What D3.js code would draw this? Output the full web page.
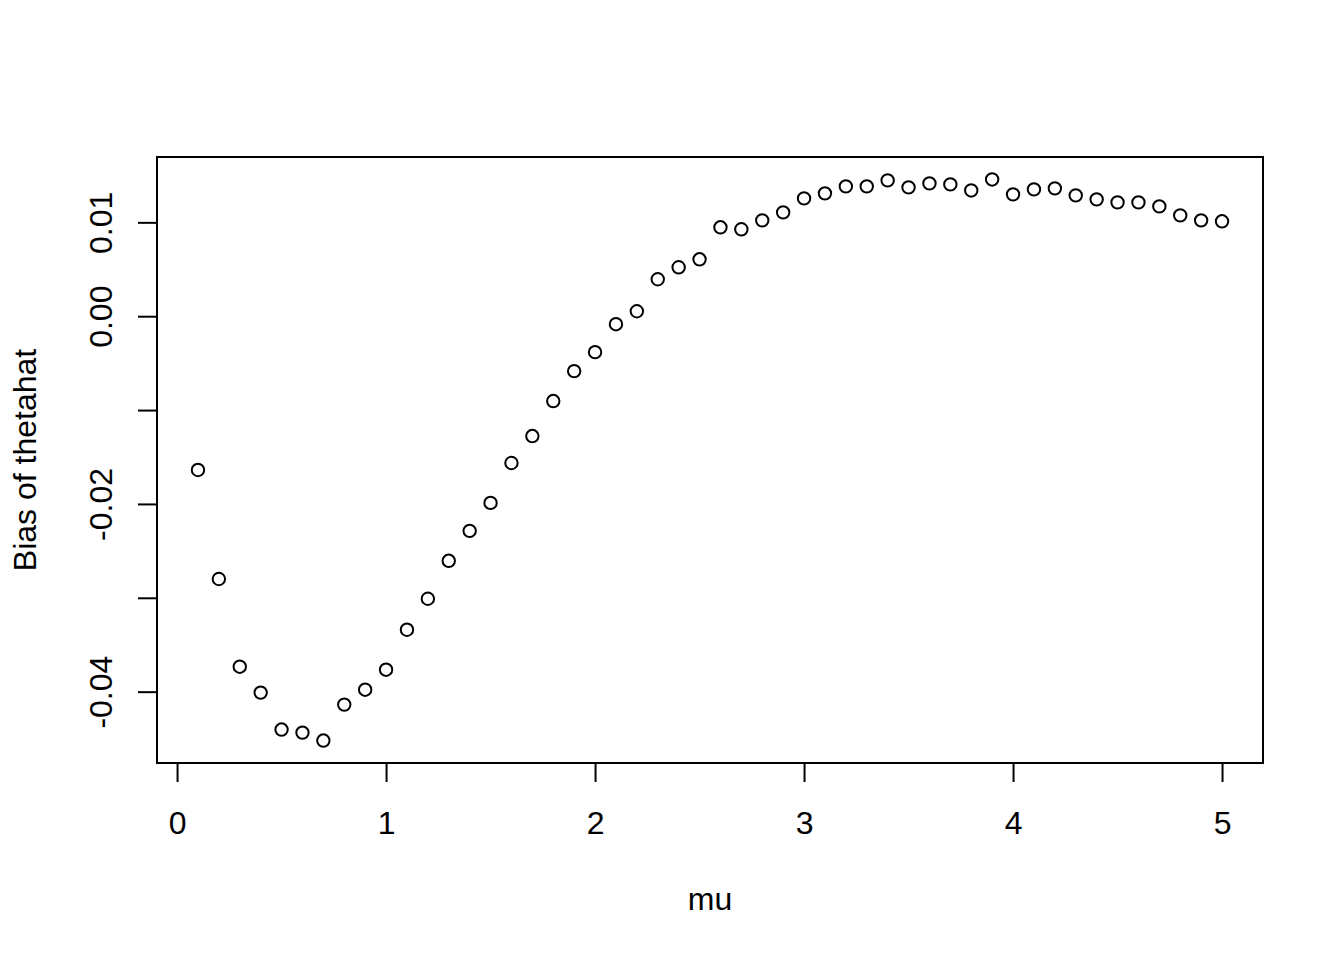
<!DOCTYPE html>
<html>
<head>
<meta charset="utf-8">
<script src="https://cdn.jsdelivr.net/npm/d3@7"></script>
<style>
  html, body { margin: 0; padding: 0; background: #fff; }
  svg text { font-family: "Liberation Sans", Arial, sans-serif; fill: #000; }
</style>
</head>
<body>
<div id="chart"></div>
<script>
// Данные: mu и смещение оценки thetahat
const mu = [
    0.1, 0.2, 0.3, 0.4, 0.5, 0.6, 0.7, 0.8, 0.9, 1.0,
    1.1, 1.2, 1.3, 1.4, 1.5, 1.6, 1.7, 1.8, 1.9, 2.0,
    2.1, 2.2, 2.3, 2.4, 2.5, 2.6, 2.7, 2.8, 2.9, 3.0,
    3.1, 3.2, 3.3, 3.4, 3.5, 3.6, 3.7, 3.8, 3.9, 4.0,
    4.1, 4.2, 4.3, 4.4, 4.5, 4.6, 4.7, 4.8, 4.9, 5.0
];
const bias = [
    -0.01638, -0.02800, -0.03734, -0.04010, -0.04404, -0.04436, -0.04521, -0.04138, -0.03979, -0.03766,
    -0.03340, -0.03010, -0.02606, -0.02287, -0.01989, -0.01564, -0.01277, -0.00904, -0.00585, -0.00383,
    -0.00085, 0.00053, 0.00394, 0.00521, 0.00606, 0.00947, 0.00926, 0.01021, 0.01106, 0.01255,
    0.01309, 0.01383, 0.01383, 0.01447, 0.01372, 0.01415, 0.01404, 0.01340, 0.01457, 0.01298,
    0.01351, 0.01362, 0.01287, 0.01245, 0.01213, 0.01213, 0.01170, 0.01074, 0.01021, 0.01011
];
const xTicks = [0, 1, 2, 3, 4, 5];
const yTicks = [-0.04, -0.03, -0.02, -0.01, 0.00, 0.01];
const yTickLabels = ['-0.04', '', '-0.02', '', '0.00', '0.01'];
const xTitle = 'mu';
const yTitle = 'Bias of thetahat';

const width = 1344, height = 960;
const margin = { top: 157, right: 81, bottom: 197, left: 157 };
const fontSize = 32;
const tickLen = 19;

// Диапазон как в R: расширяем на 4% с каждой стороны
function rExtent(vals) {
    const [lo, hi] = d3.extent(vals);
    const pad = (hi - lo) * 0.04;
    return [lo - pad, hi + pad];
}

const x = d3.scaleLinear()
    .domain(rExtent(mu))
    .range([margin.left, width - margin.right]);

const y = d3.scaleLinear()
    .domain(rExtent(bias))
    .range([height - margin.bottom, margin.top]);

const svg = d3.select('#chart')
    .append('svg')
    .attr('width', width)
    .attr('height', height);

// Ось X
const xAxis = svg.append('g')
    .attr('transform', `translate(0,${height - margin.bottom})`)
    .call(d3.axisBottom(x).tickValues(xTicks).tickSize(tickLen).tickPadding(0).tickFormat(d3.format('d')));
xAxis.select('.domain')
    .attr('d', `M${x(xTicks[0])},0H${x(xTicks[xTicks.length - 1])}`)
    .attr('stroke', '#000').attr('stroke-width', 2);
xAxis.selectAll('.tick line').attr('stroke', '#000').attr('stroke-width', 2);
xAxis.selectAll('.tick text')
    .attr('y', 71)
    .attr('dy', null)
    .attr('font-size', fontSize)
    .attr('font-family', '"Liberation Sans", Arial, sans-serif')
    .attr('fill', '#000');

// Ось Y
const yAxis = svg.append('g')
    .attr('transform', `translate(${margin.left},0)`)
    .call(d3.axisLeft(y).tickValues(yTicks).tickSize(tickLen).tickFormat((d, i) => yTickLabels[i]));
yAxis.select('.domain')
    .attr('d', `M0,${y(yTicks[0])}V${y(yTicks[yTicks.length - 1])}`)
    .attr('stroke', '#000').attr('stroke-width', 2);
yAxis.selectAll('.tick line').attr('stroke', '#000').attr('stroke-width', 2);
yAxis.selectAll('.tick text')
    .attr('x', null)
    .attr('dy', null)
    .attr('transform', 'translate(-45,0) rotate(-90)')
    .attr('text-anchor', 'middle')
    .attr('font-size', fontSize)
    .attr('font-family', '"Liberation Sans", Arial, sans-serif')
    .attr('fill', '#000');

// Рамка
svg.append('rect')
    .attr('x', margin.left)
    .attr('y', margin.top)
    .attr('width', width - margin.left - margin.right)
    .attr('height', height - margin.top - margin.bottom)
    .attr('fill', 'none')
    .attr('stroke', '#000')
    .attr('stroke-width', 2);

// Точки (pch = 1)
svg.append('g')
    .selectAll('circle')
    .data(mu.map((m, i) => [m, bias[i]]))
    .join('circle')
    .attr('cx', d => x(d[0]))
    .attr('cy', d => y(d[1]))
    .attr('r', 6.2)
    .attr('fill', 'none')
    .attr('stroke', '#000')
    .attr('stroke-width', 2);

// Подписи осей
svg.append('text')
    .attr('x', (margin.left + width - margin.right) / 2)
    .attr('y', 910)
    .attr('text-anchor', 'middle')
    .attr('font-size', fontSize)
    .text(xTitle);

svg.append('text')
    .attr('transform', `translate(36,${(margin.top + height - margin.bottom) / 2}) rotate(-90)`)
    .attr('text-anchor', 'middle')
    .attr('font-size', fontSize)
    .text(yTitle);
</script>
</body>
</html>
